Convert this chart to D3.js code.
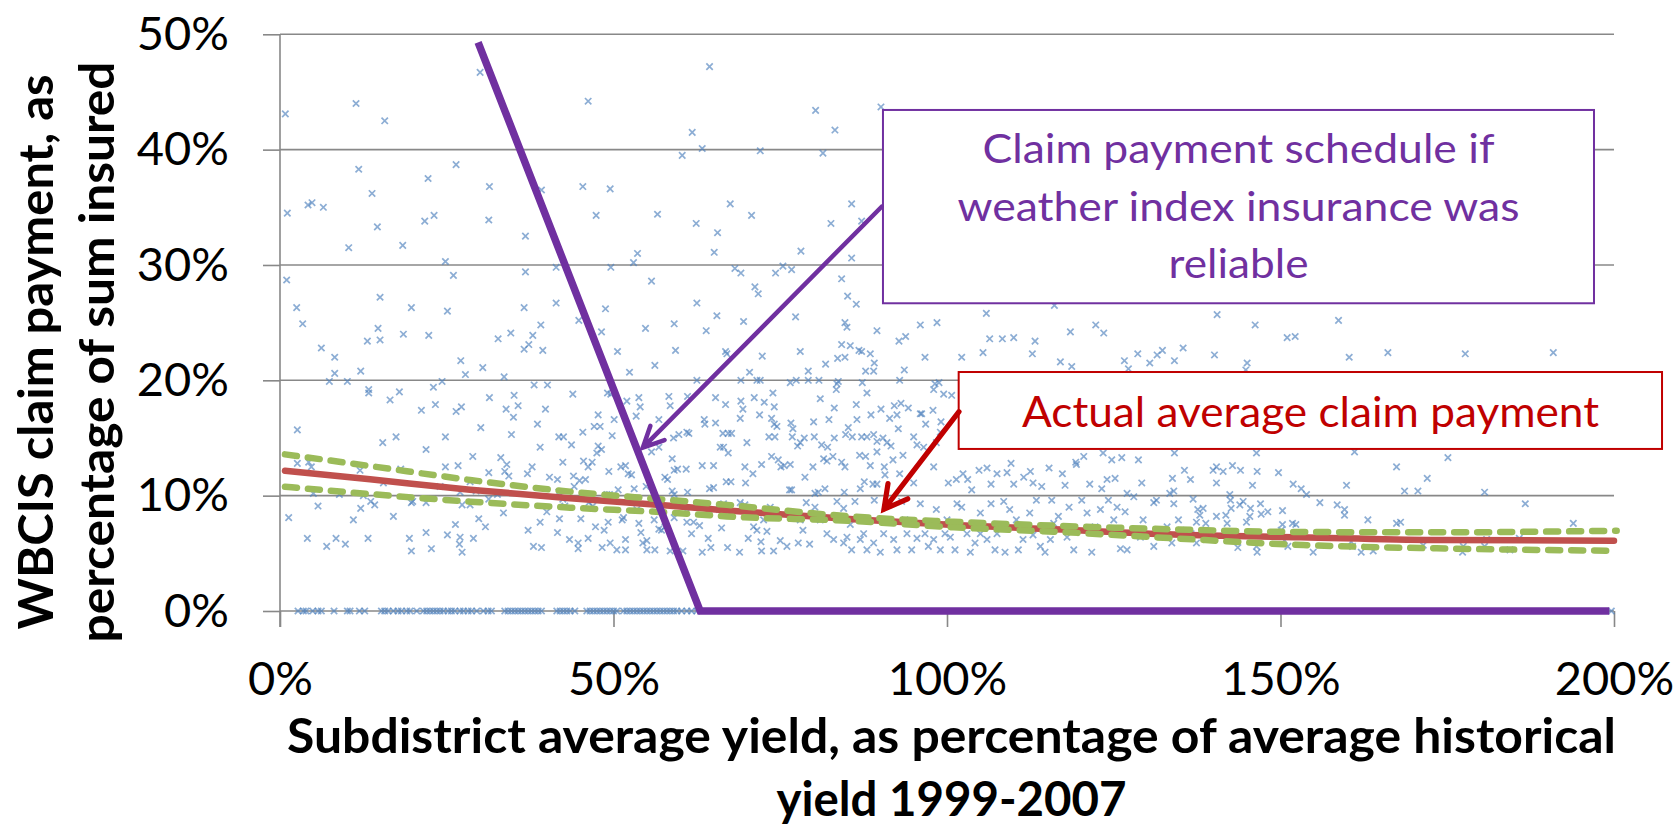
<!DOCTYPE html>
<html>
<head>
<meta charset="utf-8">
<script src="https://cdn.jsdelivr.net/npm/d3@7"></script>
<style>
  body { margin: 0; background: #fff; }
  svg { display: block; font-family: Lato, "Open Sans", sans-serif; }
</style>
</head>
<body>
<script>
// axis ticks (percent)
var xTicks = [0, 50, 100, 150, 200];
var yTicks = [0, 10, 20, 30, 40, 50];

// subdistrict observations: [yield %, claim %]
var claims = [
  [30.0,46.7],[0.8,43.1],[11.4,44.0],[15.7,42.5],[46.2,44.2],[64.4,47.2],[61.8,41.5],[63.3,40.1],[60.3,39.5],[11.8,38.3],
  [26.4,38.7],[22.2,37.5],[13.8,36.2],[31.4,36.8],[39.2,36.5],[45.4,36.8],[49.5,36.6],[1.1,34.5],[4.2,35.2],[4.8,35.4],
  [6.5,35.0],[14.6,33.3],[21.7,33.8],[23.1,34.3],[31.3,33.9],[47.4,34.3],[56.6,34.4],[62.4,33.6],[65.6,32.8],[67.5,35.3],
  [10.3,31.5],[18.4,31.7],[36.8,32.5],[53.6,31.0],[65.1,31.1],[24.8,30.3],[53.0,30.2],[41.4,29.8],[49.6,29.8],[1.0,28.7],
  [36.8,29.4],[26.0,29.1],[55.7,28.6],[15.0,27.2],[2.5,26.3],[19.7,26.3],[25.1,26.0],[36.6,26.3],[41.4,26.7],[48.8,26.2],
  [62.5,26.7],[65.5,25.6],[44.8,25.2],
  [80.3,43.4],[90.1,43.7],[83.2,41.7],[72.0,39.9],[81.4,39.7],[70.7,34.3],[85.7,35.3],[82.6,33.6],[87.2,33.8],[78.1,31.2],
  [85.7,30.6],[68.2,29.7],[69.1,29.3],[74.3,29.3],[75.4,29.9],[76.7,29.6],[84.2,28.8],[71.2,28.1],[71.7,27.5],[85.1,27.3],
  [86.4,26.6],[77.3,25.5],[105.9,25.8],[116.1,26.5],
  [140.5,25.7],[146.2,24.8],[158.7,25.2],
  [3.4,24.9],[14.7,24.5],[15.0,23.5],[13.1,23.4],[18.5,24.0],[22.3,23.9],[6.2,22.8],[8.2,22.0],[8.2,20.6],[7.4,19.9],
  [10.1,19.9],[12.1,20.8],[13.3,19.2],[13.3,18.9],[17.9,19.0],[16.5,18.3],[21.2,17.4],[23.0,19.4],[24.3,19.9],[23.3,17.9],
  [27.1,21.7],[27.8,20.5],[30.4,21.1],[26.4,17.3],[27.2,17.7],[32.7,23.6],[34.6,24.1],[36.6,22.7],[37.3,23.1],[37.9,23.9],
  [39.4,22.6],[39.1,24.8],[33.6,20.3],[31.4,18.5],[35.1,18.7],[33.9,17.5],[35.7,17.8],[35.0,16.8],[38.1,19.6],[40.1,19.6],
  [39.8,17.5],[30.1,15.9],[38.6,16.2],[34.7,15.3],[43.9,18.8],[48.2,24.2],[50.6,22.5],[52.4,20.7],[54.8,24.5],[59.1,24.9],
  [59.3,22.6],[56.2,21.3],[63.9,24.3],[62.5,20.0],[66.8,22.5],[49.1,18.9],[49.6,18.8],[52.0,18.2],[53.8,18.5],[54.0,17.7],
  [58.3,18.6],[58.5,17.8],[61.1,18.6],[65.3,18.5],[66.8,17.9],[53.4,16.9],[56.8,16.6],[50.1,16.6],[47.7,17.0],[63.6,16.6],
  [63.7,16.2],[65.3,16.3],[47.1,16.0],[48.0,16.0],[49.8,15.2],[45.4,15.5],[41.8,15.1],[42.5,15.1],[66.4,15.4],[59.0,15.0],
  [59.8,15.3],[61.0,15.5],[61.3,15.4],[67.2,15.4],[2.6,15.7],[15.4,14.6],[17.4,15.1],[24.8,15.1],[21.9,14.0],[39.0,14.2],
  [43.7,14.4],[47.7,14.3],[48.2,14.0],[47.5,13.7],[55.7,13.8],[56.8,14.2],[66.0,14.2],[66.5,14.2],[67.2,13.7],[28.9,13.4],
  [33.1,13.3],[58.8,13.2],[2.6,12.8],[4.3,12.9],[4.7,12.5],[12.0,12.2],[18.1,12.3],[24.8,12.5],[26.7,12.6],[34.0,12.7],
  [33.7,12.1],[37.8,12.5],[37.1,11.9],[34.3,11.7],[31.3,12.0],[42.4,12.9],[45.5,13.0],[46.8,12.9],[46.2,12.5],[49.3,12.1],
  [51.1,12.5],[51.8,12.6],[52.2,11.9],[52.7,11.8],[59.1,12.2],[59.6,12.3],[60.9,12.3],[63.3,12.6],[65.0,12.6],[57.7,11.6],
  [58.1,11.4],[66.9,11.2],[40.4,11.6],[41.6,11.4],[44.0,11.7],[44.9,11.3],[45.8,11.4],[44.1,10.8],[15.5,11.1],[24.0,10.8],
  [28.5,11.2],[29.4,10.4],[50.7,10.5],[53.1,10.6],[54.9,10.8],[58.8,10.4],[59.1,10.1],[61.1,10.3],[64.4,10.6],[65.0,10.7],
  [5.0,10.2],[8.9,10.1],[12.5,10.0],[13.6,9.5],[14.2,9.2],[12.1,8.9],[11.0,7.9],[5.7,9.1],[1.3,8.1],[17.0,8.2],
  [19.9,9.5],[19.7,9.4],[21.9,9.4],[27.0,10.3],[27.3,9.2],[28.5,9.2],[31.3,9.7],[32.6,10.1],[33.5,8.5],[26.3,7.5],
  [29.8,8.0],[30.8,7.3],[41.8,10.3],[42.4,9.7],[42.7,9.1],[40.0,8.6],[41.9,8.0],[45.1,8.0],[46.3,9.4],[46.9,9.1],
  [49.0,10.1],[49.4,10.1],[51.5,8.1],[51.3,7.9],[53.5,8.8],[53.8,7.6],[54.1,6.8],[47.3,7.3],[48.6,7.0],[49.2,7.7],
  [56.1,7.9],[56.8,7.1],[57.2,7.0],[57.7,7.3],[61.0,7.7],[62.0,7.7],[62.9,7.4],[61.7,6.7],[64.2,6.3],[66.2,7.2],
  [65.1,8.8],[67.1,8.3],[61.0,8.6],[59.1,8.1],[39.0,7.7],[37.2,7.0],[41.6,6.8],[43.4,6.2],[44.7,5.9],[44.7,5.4],
  [46.2,6.3],[48.3,5.5],[49.5,5.9],[50.5,5.3],[51.8,6.2],[51.8,5.3],[54.4,5.9],[55.0,6.1],[55.0,5.3],[56.2,5.3],
  [58.5,5.2],[60.4,5.2],[63.3,5.1],[64.6,5.5],[67.1,5.5],[38.0,5.6],[39.2,5.5],[4.1,6.3],[7.0,5.6],[8.4,6.3],
  [9.8,5.8],[13.2,6.3],[19.4,6.3],[19.7,5.2],[22.7,5.4],[21.9,6.8],[25.1,6.6],[27.0,6.4],[26.9,5.8],[27.3,5.1],[29.0,6.3],
  [69.5,25.1],[84.7,25.0],[85.0,24.6],[89.5,24.3],[96.0,24.8],[98.5,25.0],[93.8,23.8],[92.8,23.4],[84.2,23.1],[85.5,23.0],
  [86.8,22.6],[87.2,22.5],[88.5,22.3],[78.0,22.5],[72.3,22.1],[67.0,22.3],[83.6,21.9],[84.7,22.0],[89.1,21.5],[81.8,21.4],
  [87.8,20.8],[89.0,20.8],[93.6,20.9],[96.7,22.0],[102.2,22.0],[105.4,22.4],[106.4,23.6],[108.3,23.6],[110.0,23.7],[113.2,23.4],
  [112.8,22.3],[118.5,24.2],[122.3,24.8],[123.5,24.1],[117.0,21.6],[118.7,21.2],[126.6,21.7],[128.6,22.3],[130.4,21.5],[131.5,22.2],
  [132.3,22.6],[134.1,21.7],[127.2,21.0],[70.4,20.7],[71.5,20.0],[72.0,20.0],[69.1,20.0],[76.5,19.8],[77.4,20.0],[79.2,20.8],
  [79.2,20.0],[80.8,20.0],[83.5,19.7],[83.4,19.2],[83.7,19.9],[87.3,19.8],[92.9,20.0],[98.0,19.2],[98.2,19.7],[98.8,19.8],
  [99.5,18.8],[100.7,18.7],[88.0,18.9],[73.9,18.9],[69.1,18.2],[69.4,17.5],[69.0,16.7],[71.1,18.5],[72.6,18.1],[74.1,17.7],
  [71.9,17.0],[73.7,16.7],[74.1,16.2],[74.5,16.0],[76.6,16.3],[76.9,15.8],[80.0,16.4],[81.0,18.4],[83.1,17.6],[82.3,16.6],
  [86.4,17.9],[88.6,17.0],[90.1,17.5],[91.4,16.7],[92.1,17.8],[93.1,18.0],[94.2,17.6],[92.5,17.0],[92.7,15.8],[96.0,17.1],
  [96.2,17.1],[96.8,16.2],[97.9,17.4],[86.5,16.6],[67.7,15.4],[70.0,14.6],[73.3,15.1],[74.2,15.1],[76.8,15.1],[78.0,14.6],
  [78.6,15.0],[80.1,15.1],[81.2,14.4],[82.1,14.2],[83.1,15.0],[84.8,15.3],[85.2,15.9],[85.8,15.1],[87.2,15.1],[88.0,15.1],
  [89.0,15.3],[89.5,14.7],[90.4,15.0],[91.0,14.6],[91.6,14.3],[95.0,15.1],[95.5,14.4],[96.5,14.2],[98.4,14.6],[99.1,16.4],
  [99.0,15.5],[69.7,12.5],[70.9,11.9],[72.2,12.7],[73.7,13.4],[74.7,13.1],[75.1,12.5],[75.6,12.6],[76.5,12.7],[77.6,14.3],
  [79.9,12.5],[81.5,13.2],[82.0,13.0],[82.9,13.4],[84.2,12.9],[84.7,12.5],[86.9,13.5],[87.8,13.4],[88.5,12.6],[89.5,13.8],
  [90.6,12.5],[91.9,13.1],[93.4,13.5],[98.0,12.5],[67.6,11.2],[69.8,11.1],[78.7,11.6],[80.2,10.2],[80.7,10.3],[81.7,10.6],
  [84.6,10.3],[87.0,10.6],[87.6,11.2],[88.9,11.0],[89.5,11.0],[90.7,11.8],[92.9,11.9],[95.0,11.1],[76.4,10.5],[76.7,10.5],
  [100.2,11.1],[101.4,11.4],[102.4,11.9],[103.1,11.4],[103.7,10.5],[104.8,12.2],[106.0,12.4],[106.6,11.0],[107.5,11.9],[109.0,12.0],
  [109.6,12.8],[110.0,11.0],[111.5,11.6],[112.5,12.1],[112.9,11.1],[114.2,10.8],[115.3,12.4],[117.3,11.9],[117.7,10.9],[119.3,12.9],
  [120.5,13.4],[121.4,11.0],[123.2,10.6],[124.0,11.4],[125.2,11.5],[124.7,13.1],[126.2,13.3],[127.0,10.2],[129.2,11.1],[133.8,11.5],
  [134.0,10.4],[123.4,13.7],[134.1,13.7],[128.7,13.1],[119.4,12.7],
  [66.5,9.3],[69.0,9.4],[69.7,9.2],[68.9,5.1],[70.2,6.3],[71.0,7.3],[71.5,7.0],[72.1,6.0],[72.2,5.2],[73.0,6.9],
  [73.5,9.0],[74.0,5.2],[75.0,6.1],[76.0,5.6],[77.7,5.9],[78.4,7.0],[79.4,5.8],[78.9,9.4],[80.2,9.0],[81.0,7.9],
  [82.0,6.7],[83.0,6.2],[83.5,9.5],[84.5,5.9],[85.0,6.4],[85.7,5.3],[86.2,9.5],[87.0,6.2],[87.5,6.7],[88.0,5.3],
  [89.0,5.9],[89.1,9.6],[90.0,5.1],[90.5,6.7],[90.7,7.9],[92.0,6.2],[92.5,5.3],[93.2,9.5],[94.0,6.7],[94.7,5.3],
  [95.5,6.3],[96.0,9.3],[96.7,6.7],[97.2,5.6],[98.0,6.2],[98.4,8.8],[99.0,5.3],[99.7,6.7],[100.5,6.4],[101.2,5.3],
  [101.5,9.3],[102.2,9.0],[103.0,6.7],[103.5,5.1],[104.2,5.9],[105.0,6.7],[106.0,6.2],[106.6,9.3],[107.2,5.3],[107.5,6.7],
  [108.5,9.5],[108.7,5.1],[109.4,8.8],[110.7,5.3],[111.4,6.2],[112.4,8.5],[112.9,6.6],[113.4,9.6],[114.0,5.6],[114.7,5.1],
  [115.5,6.2],[115.7,9.6],[116.7,8.2],[118.0,6.4],[118.3,9.0],[119.0,5.3],[120.2,9.6],[121.0,8.5],[121.7,5.1],[123.0,8.8],
  [124.2,9.6],[125.5,9.0],[126.0,5.4],[127.0,5.3],[126.7,8.6],[128.0,9.9],[129.4,7.9],[131.0,9.4],[131.0,5.6],[131.4,9.6],
  [133.0,7.3],[133.7,5.9],[134.0,9.3],[134.7,7.9],[133.4,10.2],[76.2,8.5],[72.5,7.9],[93.7,7.9],[85.5,7.5],[78.0,7.9],
  [105.0,8.5],[110.4,7.9],[116.0,7.6],[122.2,7.3],[125.0,7.9],[129.0,6.4],[100.0,7.9],[84.5,8.9],
  [151.0,23.7],[152.2,23.8],[135.4,22.8],[140.1,22.2],[145.0,21.5],[144.8,20.9],[160.3,22.0],[166.1,22.4],[177.7,22.3],[190.9,22.4],
  [146.4,13.7],[161.1,13.8],[175.1,13.3],[167.4,12.5],[135.6,12.2],[136.5,11.4],[139.9,12.2],[140.4,12.5],[141.4,12.1],[142.8,12.6],
  [144.0,12.2],[146.5,12.1],[149.7,12.0],[140.4,11.1],[145.8,10.9],[151.9,11.0],[153.1,10.6],[153.9,10.1],[159.9,10.9],[172.0,11.5],
  [168.6,10.4],[170.6,10.4],[180.6,10.3],[136.9,9.7],[142.4,10.1],[142.5,9.6],[144.4,9.5],[143.9,9.2],[147.0,9.3],[137.6,8.8],
  [138.4,8.9],[142.6,8.9],[145.5,8.9],[148.1,8.6],[147.1,8.4],[150.3,8.7],[137.9,8.3],[140.4,8.2],[141.8,8.3],[145.4,8.2],
  [137.4,7.7],[138.8,7.6],[142.0,7.6],[144.9,7.7],[150.3,7.5],[151.8,7.6],[152.3,7.5],[155.9,9.4],[158.5,9.2],[159.6,8.8],
  [159.6,8.3],[163.1,7.9],[167.4,7.6],[168.0,7.7],[186.7,9.3],[193.9,7.6],[135.1,7.0],[136.6,6.7],[142.9,6.8],[150.1,7.0],
  [137.4,5.9],[143.6,5.5],[146.4,5.6],[146.5,5.1],[150.6,6.1],[151.1,5.6],[154.9,5.1],[160.6,6.0],[160.8,5.6],[162.1,5.1],
  [163.9,5.2],[171.4,5.7],[177.4,5.6],[177.3,5.1],[180.6,5.6],[180.9,6.2],[184.4,5.3],[185.8,6.3]
];

// subdistricts with no claim paid (yield %)
var zeroYields = [2.7,3.5,3.9,4.9,5.7,6.2,8.1,10.1,10.5,11.9,12.7,15.2,15.7,16.2,17.0,17.7,18.2,19.0,19.5,20.5,
  21.5,22.0,22.5,23.0,23.5,24.0,24.5,25.2,25.7,26.2,27.0,27.5,28.2,28.7,29.5,30.5,31.2,31.7,33.7,34.2,
  34.7,35.2,35.7,36.2,36.7,37.2,37.7,38.2,38.7,39.2,41.5,42.0,42.5,43.0,43.5,44.2,46.0,46.5,47.0,47.5,
  48.0,48.5,49.0,49.5,50.0,50.5,51.5,52.0,52.5,53.0,53.5,54.0,54.5,55.0,55.5,56.0,56.5,57.0,57.5,58.0,
  58.5,59.0,59.5,60.2,61.0,61.7,62.5,199.6];

// fitted average claim and its confidence band
var fitted = [[0.75,12.16],[13.5,11.42],[28.5,10.52],[43.5,9.77],[58.5,9.13],[67,8.72],[86,7.95],[101,7.45],[116,7.08],[134,6.63],[153,6.39],[173,6.15],[200,6.1]];
var upperBand = [[0.75,13.58],[13.5,12.57],[28.5,11.36],[43.5,10.35],[58.5,9.62],[67,9.2],[86,8.18],[101,7.74],[116,7.4],[134,7.08],[153.4,6.85],[173.4,6.82],[200.4,6.96]];
var lowerBand = [[0.75,10.78],[13.5,10.14],[28.5,9.48],[43.5,8.96],[58.5,8.53],[67,8.2],[86,7.8],[101,7.25],[116,6.88],[134,6.3],[153.4,5.72],[173.4,5.43],[199.4,5.23]];

// index insurance schedule if reliable
var schedule = [[29.7,49.3],[63.0,0],[199.3,0]];

var W = 1678, H = 828;
var grey = "#888888", purple = "#7030A0", darkRed = "#C00000";

var x = d3.scaleLinear().domain([0, 200]).range([280, 1614]);
var y = d3.scaleLinear().domain([0, 50]).range([611, 34.3]);

var svg = d3.select("body").append("svg").attr("width", W).attr("height", H);

// gridlines
svg.append("g").selectAll("line").data(yTicks).enter().append("line")
  .attr("x1", x(0)).attr("x2", x(200))
  .attr("y1", function(d) { return y(d); }).attr("y2", function(d) { return y(d); })
  .attr("stroke", grey).attr("stroke-width", 1.6);

// y axis
var yAxis = svg.append("g").attr("transform", "translate(" + x(0) + ",0)")
  .call(d3.axisLeft(y).tickValues(yTicks).tickSize(17).tickPadding(34).tickFormat(function(d) { return d + "%"; }));
yAxis.select(".domain").remove();
yAxis.selectAll("line").attr("stroke", grey).attr("stroke-width", 1.6);
yAxis.selectAll("text").attr("font-size", 47).attr("font-family", "Lato").attr("fill", "#000");

svg.append("line").attr("x1", x(0)).attr("x2", x(0)).attr("y1", y(50)).attr("y2", y(0) + 16)
  .attr("stroke", grey).attr("stroke-width", 1.6);

// x axis
var xAxis = svg.append("g").attr("transform", "translate(0," + y(0) + ")")
  .call(d3.axisBottom(x).tickValues(xTicks).tickSize(16).tickPadding(35).tickFormat(function(d) { return d + "%"; }));
xAxis.select(".domain").remove();
xAxis.selectAll("line").attr("stroke", grey).attr("stroke-width", 1.6);
xAxis.selectAll("text").attr("font-size", 47).attr("font-family", "Lato").attr("fill", "#000");

// scatter
var cross = "M-3.2,-3.2L3.2,3.2M-3.2,3.2L3.2,-3.2";
var allPts = claims.concat(zeroYields.map(function(v) { return [v, 0]; }));
svg.append("g").selectAll("path").data(allPts).enter().append("path")
  .attr("d", cross)
  .attr("transform", function(d) { return "translate(" + x(d[0]) + "," + y(d[1]) + ")"; })
  .attr("fill", "none").attr("stroke", "#4F81BD").attr("stroke-opacity", 0.65).attr("stroke-width", 1.7);

// lines
var line = d3.line().x(function(d) { return x(d[0]); }).y(function(d) { return y(d[1]); }).curve(d3.curveMonotoneX);

svg.append("path").datum(fitted).attr("d", line)
  .attr("fill", "none").attr("stroke", "#C0504D").attr("stroke-width", 6.5).attr("stroke-linecap", "round");

[upperBand, lowerBand].forEach(function(band) {
  svg.append("path").datum(band).attr("d", line)
    .attr("fill", "none").attr("stroke", "#9BBB59").attr("stroke-width", 6.5)
    .attr("stroke-dasharray", "12,11").attr("stroke-linecap", "round");
});

svg.append("path").datum(schedule).attr("d", d3.line().x(function(d) { return x(d[0]); }).y(function(d) { return y(d[1]); }))
  .attr("fill", "none").attr("stroke", purple).attr("stroke-width", 7.5).attr("stroke-linejoin", "miter");

// callouts
function box(x0, x1, y0, y1, color) {
  svg.append("rect").attr("x", x(x0)).attr("y", y(y0)).attr("width", x(x1) - x(x0)).attr("height", y(y1) - y(y0))
    .attr("fill", "#fff").attr("stroke", color).attr("stroke-width", 2);
}
function label(t, cx, by, len, size, color) {
  svg.append("text").attr("x", x(cx)).attr("y", y(by)).attr("text-anchor", "middle")
    .attr("font-size", size).attr("fill", color).attr("textLength", len).attr("lengthAdjust", "spacingAndGlyphs")
    .text(t);
}
function arrow(from, to, len, ang, color, w) {
  var x0 = x(from[0]), y0 = y(from[1]), x1 = x(to[0]), y1 = y(to[1]);
  var a = Math.atan2(y0 - y1, x0 - x1);
  var p1 = [x1 + len * Math.cos(a + ang), y1 + len * Math.sin(a + ang)];
  var p2 = [x1 + len * Math.cos(a - ang), y1 + len * Math.sin(a - ang)];
  svg.append("path")
    .attr("d", "M" + x0 + "," + y0 + "L" + x1 + "," + y1 + "M" + p1 + "L" + x1 + "," + y1 + "L" + p2)
    .attr("fill", "none").attr("stroke", color).attr("stroke-width", w)
    .attr("stroke-linejoin", "miter").attr("stroke-linecap", "round");
}

box(90.4, 197.0, 43.44, 26.68, purple);
label("Claim payment schedule if", 143.7, 38.84, 512, 41, purple);
label("weather index insurance was", 143.7, 33.81, 562, 41, purple);
label("reliable", 143.7, 28.87, 140, 41, purple);
arrow([90.2, 35.05], [54.4, 14.16], 23, 0.45, purple, 4.5);

box(101.75, 207.2, 20.72, 14.05, darkRed);
label("Actual average claim payment", 154.5, 15.95, 577, 42, darkRed);
arrow([101.8, 17.28], [90.55, 8.82], 26, 0.5, darkRed, 5.2);

// axis titles
var yt = svg.append("g").attr("transform", "translate(0,352) rotate(-90)")
  .attr("font-weight", "bold").attr("font-size", 48).attr("text-anchor", "middle");
yt.append("text").attr("y", 53).attr("textLength", 555).attr("lengthAdjust", "spacingAndGlyphs").text("WBCIS claim payment, as");
yt.append("text").attr("y", 114).attr("textLength", 581).attr("lengthAdjust", "spacingAndGlyphs").text("percentage of sum insured");

var xt = svg.append("g").attr("font-weight", "bold").attr("font-size", 48).attr("text-anchor", "middle");
xt.append("text").attr("x", 951.5).attr("y", 753).attr("textLength", 1329).attr("lengthAdjust", "spacingAndGlyphs")
  .text("Subdistrict average yield, as percentage of average historical");
xt.append("text").attr("x", 951.5).attr("y", 816).attr("textLength", 350).attr("lengthAdjust", "spacingAndGlyphs")
  .text("yield 1999-2007");
</script>
</body>
</html>
